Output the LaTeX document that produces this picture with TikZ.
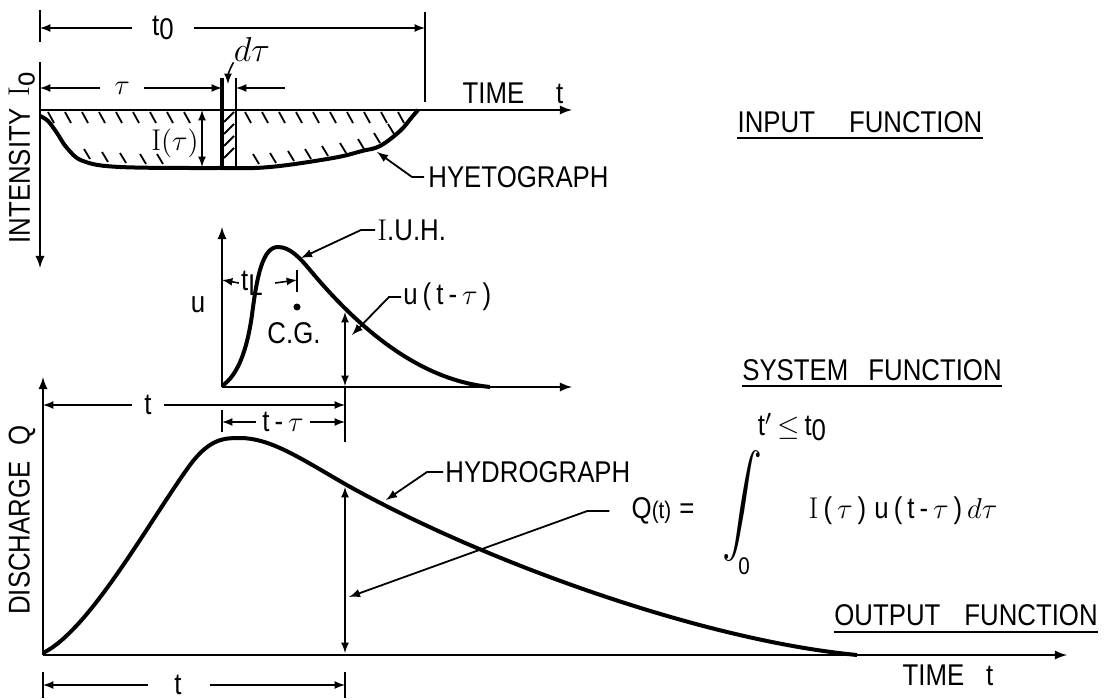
\documentclass[tikz,border=0pt]{standalone}
\usepackage{fontspec}
\setsansfont{Liberation Sans}[FakeStretch=0.86]
\usepackage{tikz}

\newcommand{\lowsub}[1]{\raisebox{-0.3ex}{#1}}

\begin{document}
\begin{tikzpicture}[
    x=0.5pt, y=-0.5pt,
    >=latex,
    every node/.style={font=\sffamily\fontsize{15}{18}\selectfont, inner sep=0pt},
    axis/.style={draw, line width=1.1pt},
    curve/.style={draw, line width=2pt, line join=round},
    dimline/.style={draw, line width=0.8pt},
    leader/.style={draw, line width=0.9pt},
    hatch/.style={draw, line width=0.9pt},
    uline/.style={draw, line width=1pt}
]
\useasboundingbox (0,0) rectangle (1117,700);

% input function: hyetograph
\draw[axis,->] (40,62) -- (40,268);
\draw[axis,->] (40,110) -- (572,110);
\node[rotate=90] (intens) at (22,158) {INTENSITY\hspace{6pt}$\mathrm{I}$\lowsub{o}};
\node (timeA) at (513,93) {TIME\hspace{16pt}t};

\draw[curve] plot[smooth, tension=0.6] coordinates {(40,116) (48,121) (57,133) (67,148) (83,161) (120,167) (220,168) (270,167) (333,158) (362,151) (380,146) (400,131) (412,117) (418,110)};
\foreach \x in {48,65,...,184} \draw[hatch] (\x,112) -- ++(6,11);
\foreach \x in {245,262,...,398} \draw[hatch] (\x,112) -- ++(6,11);
\foreach \x/\y in {84/149,102/152,120/153,140/154,157/154,253/154,270/153,288/151,305/149,322/146,340/143,358/139,374/133,388/124}
    \draw[hatch] (\x,\y) -- ++(6,10);

% strip d tau
\draw[line width=2pt] (222,78) -- (222,168);
\draw[line width=1.2pt] (236,78) -- (236,168);
\foreach \y in {122,134,...,166} \draw[hatch] (224,\y) -- (234,\y-10);

% t0
\draw[dimline] (40,10) -- (40,42);
\draw[dimline] (425,12) -- (425,102);
\coordinate (t0L) at (40,28);
\coordinate (t0R) at (425,28);
\node (tnull) at (163,28) {t\lowsub{0}};
\draw[dimline,->] ([xshift=-10pt]tnull.west) -- (t0L);
\draw[dimline,->] ([xshift=10pt]tnull.east) -- (t0R);

% tau and d tau
\coordinate (tauL) at (40,88);
\coordinate (tauR) at (222,88);
\coordinate (dtauR) at (236,88);
\coordinate (dtauS) at (285,88);
\node (tau) at (122,88) {$\tau$};
\draw[dimline,->] ([xshift=-7pt]tau.west) -- (tauL);
\draw[dimline,->] ([xshift=7pt]tau.east) -- (tauR);
\draw[dimline,->] (dtauS) -- (dtauR);
\node (dtau) at (252,50) {\fontsize{18}{18}\selectfont$d\tau$};
\coordinate (dtauTip) at (228,84);
\draw[dimline,->] (dtau.south west) to[out=-120, in=90] (dtauTip);

% I(tau)
\coordinate (itTop) at (202,110);
\coordinate (itBot) at (202,167);
\draw[dimline,<->] (itTop) -- (itBot);
\node (itau) at (175,143) {$\mathrm{I}(\tau)$};

\node[anchor=west] (hyeto) at (428,177) {HYETOGRAPH};
\coordinate (hyetoTip) at (377,152);
\draw[leader,->] ([xshift=-2pt]hyeto.west) -- ++(-12,0) -- (hyetoTip);

\node (inpf) at (860,122) {INPUT\hspace{17pt}FUNCTION};
\draw[uline] ([yshift=-3pt]inpf.base west) -- ([yshift=-3pt]inpf.base east);

% system function: I.U.H.
\draw[axis,->] (222,387) -- (222,227);
\draw[axis,->] (222,387) -- (572,387);
\node (ulbl) at (198,305) {u};
\draw[curve] (222,386) .. controls (238,375) and (247,350) .. (252,315)
    .. controls (257,275) and (263,247) .. (278,247)
    .. controls (290,247) and (300,258) .. (310,270)
    .. controls (360,330) and (420,380) .. (490,387);

\coordinate (tlL) at (222,280);
\coordinate (tlR) at (297,280);
\node (tl) at (252,283) {t\lowsub{L}};
\draw[dimline,->] ([xshift=-1pt]tl.west) -- (tlL);
\draw[dimline,->] ([xshift=6pt]tl.east) -- (tlR);
\draw[dimline] (297,270) -- (297,292);

\fill (297,307) circle (3.5);
\node (cg) at (294,333) {C.G.};

\coordinate (uTop) at (345,312);
\coordinate (uBot) at (345,386);
\draw[dimline,<->] (uTop) -- (uBot);
\draw[dimline] (uBot) -- (345,442);

\node[anchor=west] (ult) at (403,297) {u\,(\,t\,-\,$\tau$\,)};
\coordinate (ultTip) at (352,335);
\draw[leader,->] ([xshift=-1pt]ult.west) -- ++(-12,0) -- (ultTip);

\node[anchor=west] (iuh) at (377,230) {$\mathrm{I}$.U.H.};
\coordinate (iuhTip) at (301,258);
\draw[leader,->] ([xshift=-1pt]iuh.west) -- ++(-14,0) -- (iuhTip);

\node (sysf) at (872,370) {SYSTEM\hspace{10pt}FUNCTION};
\draw[uline] ([yshift=-3pt]sysf.base west) -- ([yshift=-3pt]sysf.base east);

% output function: hydrograph
\draw[axis,->] (43,655) -- (43,377);
\draw[axis,->] (43,655) -- (1067,655);
\node[rotate=90] (disch) at (22,520) {DISCHARGE\hspace{8pt}Q};
\node (timeB) at (948,675) {TIME\hspace{11pt}t};

\draw[curve] (43,653) .. controls (90,630) and (150,520) .. (190,465)
    .. controls (210,438) and (225,438) .. (240,438)
    .. controls (270,438) and (300,458) .. (345,484)
    .. controls (480,560) and (700,640) .. (857,655);

\coordinate (qTop) at (345,487);
\coordinate (qBot) at (345,653);
\draw[dimline,<->] (qTop) -- (qBot);

% t and t - tau
\coordinate (ttL) at (43,405);
\coordinate (ttR) at (345,405);
\node (ttop) at (148,405) {t};
\draw[dimline,->] ([xshift=-6pt]ttop.west) -- (ttL);
\draw[dimline,->] ([xshift=6pt]ttop.east) -- (ttR);

\coordinate (ttauL) at (222,422);
\coordinate (ttauR) at (345,422);
\draw[dimline] (222,410) -- (222,432);
\node (ttau) at (283,422) {t\,-\,$\tau$};
\draw[dimline,->] ([xshift=-3pt]ttau.west) -- (ttauL);
\draw[dimline,->] ([xshift=3pt]ttau.east) -- (ttauR);

\coordinate (tbL) at (43,685);
\coordinate (tbR) at (345,685);
\draw[dimline] (43,672) -- (43,698);
\draw[dimline] (345,672) -- (345,698);
\node (tbot) at (178,685) {t};
\draw[dimline,->] ([xshift=-13pt]tbot.west) -- (tbL);
\draw[dimline,->] ([xshift=14pt]tbot.east) -- (tbR);

\node[anchor=west] (hydro) at (445,472) {HYDROGRAPH};
\coordinate (hydroTip) at (386,500);
\draw[leader,->] ([xshift=-1pt]hydro.west) -- ++(-16,0) -- (hydroTip);

% convolution integral
\node (qt) at (663,511) {Q{\fontsize{12}{12}\selectfont(t)}\hspace{4pt}=};
\coordinate (qtTip) at (349,597);
\draw[leader,->] ([xshift=-11pt]qt.west) -- ++(-22,0) -- (qtTip);
\node[xscale=2, yscale=2.5] (intg) at (742,506) {$\displaystyle\int$};
\node (uplim) at (792,427) {t$'$\,$\leq$\,t\lowsub{0}};
\node (lolim) at (744,566) {\fontsize{12}{12}\selectfont 0};
\node (integ) at (903,511) {$\mathrm{I}$\,(\,$\tau$\,)\;u\,(\,t\,-\,$\tau$\,)\,$d\tau$};

\node (outf) at (966,615) {OUTPUT\hspace{12pt}FUNCTION};
\draw[uline] ([yshift=-3.5pt]outf.base west) -- ([yshift=-3.5pt]outf.base east);

\end{tikzpicture}
\end{document}
